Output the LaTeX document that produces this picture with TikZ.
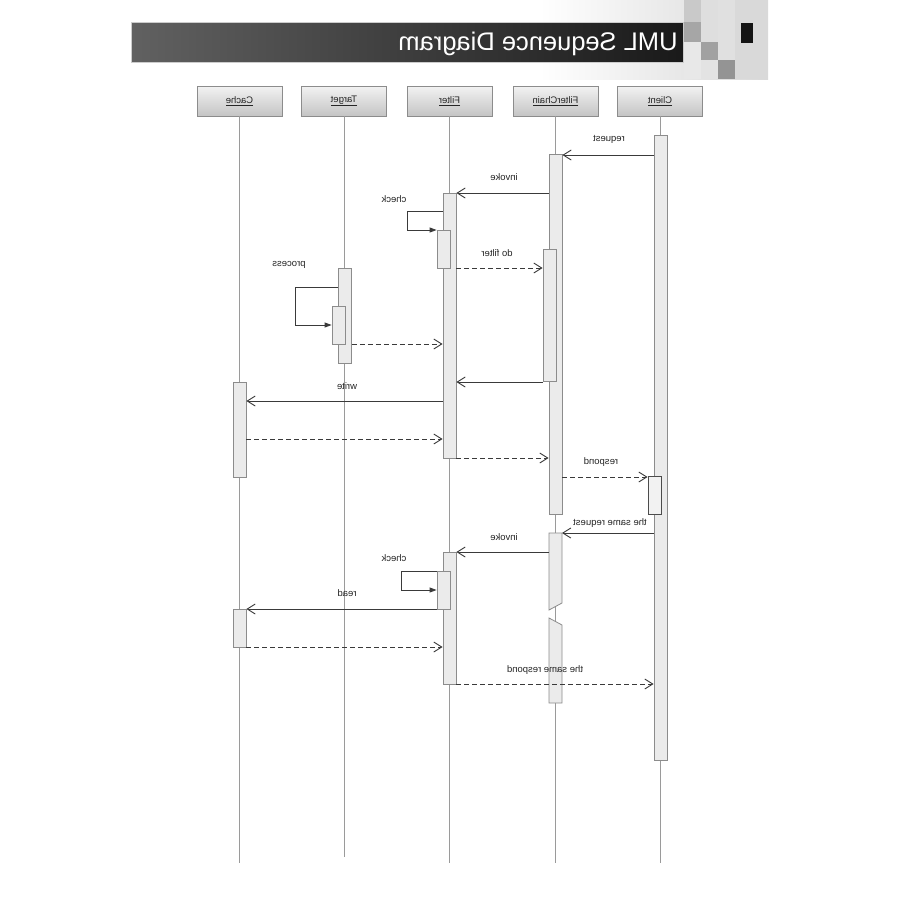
\documentclass[tikz,border=0pt]{standalone}
\usepackage{fontspec}
\setmainfont{Liberation Sans}
\usetikzlibrary{arrows.meta}
\definecolor{barfill}{HTML}{EBEBEB}
\definecolor{bardraw}{HTML}{8C8C8C}
\definecolor{lifegray}{HTML}{9A9A9A}
\definecolor{msgcol}{HTML}{3A3A3A}
\tikzset{
  lbl/.style={xscale=-1, font=\fontsize{9.5}{11}\selectfont, text=black!85, inner sep=0pt, anchor=base},
  lifehead/.style={xscale=-1, draw=bardraw, line width=0.8pt, top color=white!95!black, bottom color=black!23,
    minimum width=85pt, minimum height=30pt, inner sep=0pt, font=\fontsize{9.5}{11}\selectfont, text=black!85},
  lifeln/.style={draw=lifegray, line width=0.9pt},
  actbar/.style={draw=bardraw, fill=barfill, line width=0.8pt, minimum width=13pt, inner sep=0pt},
  actpath/.style={draw=bardraw, fill=barfill, line width=0.8pt},
  msg/.style={draw=msgcol, line width=0.9pt, -{Straight Barb[length=8pt,width=10pt,line width=0.9pt]}},
  retmsg/.style={msg, dash pattern=on 5pt off 3pt},
  selfmsg/.style={draw=msgcol, line width=0.9pt, -{Triangle[length=7pt,width=5pt]}},
  titletext/.style={xscale=-1, font=\fontsize{25.5}{30}\selectfont, text=white, inner sep=0pt, anchor=base}
}
\begin{document}
\begin{tikzpicture}[x=1pt,y=-1pt]
\useasboundingbox (0,0) rectangle (900,900);
\fill[white] (0,0) rectangle (900,900);

% header decoration
\shade[left color=white, right color=black!15] (540,0) rectangle (768,79);
\fill[black!21] (684,0) rectangle (701,22);
\fill[black!35] (684,22) rectangle (701,42);
\fill[black!9] (684,42) rectangle (701,79);
\fill[black!13] (701,0) rectangle (718,42);
\fill[black!37] (701,42) rectangle (718,60);
\fill[black!11] (701,60) rectangle (718,79);
\fill[black!12] (718,0) rectangle (735,60);
\fill[black!42] (718,60) rectangle (735,79);
\fill[black!15] (735,0) rectangle (768,79);
\fill[black!92] (741,23) rectangle (753,43);
\shade[left color=black!62, right color=black!90, draw=black!20, line width=0.5pt] (131,22) rectangle (683,62);
\node[titletext] (title) at (538,50) {UML Sequence Diagram};

% lifeline heads
\node[lifehead] (hca) at (239.5,101) {\underline{Cache}};
\node[lifehead] (hta) at (344,101) {\underline{Target}};
\node[lifehead] (hfi) at (449.5,101) {\underline{Filter}};
\node[lifehead] (hfc) at (555.5,101) {\underline{FilterChain}};
\node[lifehead] (hcl) at (660,101) {\underline{Client}};

% lifelines
\draw[lifeln] (hca.south) -- (hca.south |- 0,863);
\draw[lifeln] (hta.south) -- (hta.south |- 0,857);
\draw[lifeln] (hfi.south) -- (hfi.south |- 0,863);
\draw[lifeln] (hfc.south) -- (hfc.south |- 0,863);
\draw[lifeln] (hcl.south) -- (hcl.south |- 0,863);

% activation bars
\node[actbar, minimum height=625pt] (clbar) at (660.5,447.5) {};
\node[actbar, minimum height=360pt] (fcbar) at (555.5,334) {};
\node[actbar, minimum height=132pt] (fcbarn) at (549.5,315) {};
\node[actbar, minimum height=265pt] (fbar) at (449.5,325.5) {};
\node[actbar, minimum height=38pt] (fbarn) at (443.5,249) {};
\node[actbar, minimum height=95pt] (tbar) at (345,315.5) {};
\node[actbar, minimum height=38pt] (tbarn) at (338.5,325) {};
\node[actbar, minimum height=95pt] (cbar) at (239.5,429.5) {};
\node[actbar, minimum height=38pt, draw=black!70, fill=black!5] (clbarb) at (654.5,495) {};
\path[actpath] (549,533) -- (562,533) -- (562,603) -- (549,610) -- cycle;
\path[actpath] (549,618) -- (562,625) -- (562,703) -- (549,703) -- cycle;
\coordinate (fcb2e) at (562,533);
\coordinate (fcb2w) at (549,552);
\node[actbar, minimum height=132pt] (fbar2) at (449.5,618) {};
\node[actbar, minimum height=38pt] (fbar2n) at (443.5,590) {};
\node[actbar, minimum height=38pt] (cbar2) at (239.5,628) {};

% messages
\draw[msg] (clbar.west |- 0,155) -- (fcbar.east |- 0,155);
\node[lbl] (l1) at (609,141.5) {request};
\draw[msg] (fcbar.west |- 0,193) -- (fbar.east |- 0,193);
\node[lbl] (l2) at (504,180) {invoke};
\draw[selfmsg] (fbar.west |- 0,211) -- (407,211) -- (407,230) -- (fbarn.west |- 0,230);
\node[lbl] (l3) at (394,202) {check};
\draw[retmsg] (fbar.east |- 0,268) -- (fcbarn.west |- 0,268);
\node[lbl] (l4) at (497,256) {do filter};
\draw[selfmsg] (tbar.west |- 0,287) -- (295,287) -- (295,325) -- (tbarn.west |- 0,325);
\node[lbl] (l5) at (289,266.5) {process};
\draw[retmsg] (tbar.east |- 0,344) -- (fbar.west |- 0,344);
\draw[msg] (fcbarn.west |- 0,382) -- (fbar.east |- 0,382);
\draw[msg] (fbar.west |- 0,401) -- (cbar.east |- 0,401);
\node[lbl] (l6) at (347,389) {write};
\draw[retmsg] (cbar.east |- 0,439) -- (fbar.west |- 0,439);
\draw[retmsg] (fbar.east |- 0,458) -- (fcbar.west |- 0,458);
\draw[retmsg] (fcbar.east |- 0,477) -- (clbarb.west |- 0,477);
\node[lbl] (l7) at (601,464) {respond};
\draw[msg] (clbar.west |- 0,533) -- (fcb2e);
\node[lbl] (l8) at (610,525) {the same request};
\draw[msg] (fcb2w) -- (fbar2.east |- 0,552);
\node[lbl] (l9) at (504,540) {invoke};
\draw[selfmsg] (fbar2n.west |- 0,571) -- (401,571) -- (401,590) -- (fbar2n.west |- 0,590);
\node[lbl] (l10) at (394,561) {check};
\draw[msg] (fbar2n.west |- 0,609) -- (cbar2.east |- 0,609);
\node[lbl] (l11) at (347,596) {read};
\draw[retmsg] (cbar2.east |- 0,647) -- (fbar2.west |- 0,647);
\draw[retmsg] (fbar2.east |- 0,684) -- (clbar.west |- 0,684);
\node[lbl] (l12) at (545,672) {the same respond};
\end{tikzpicture}
\end{document}
